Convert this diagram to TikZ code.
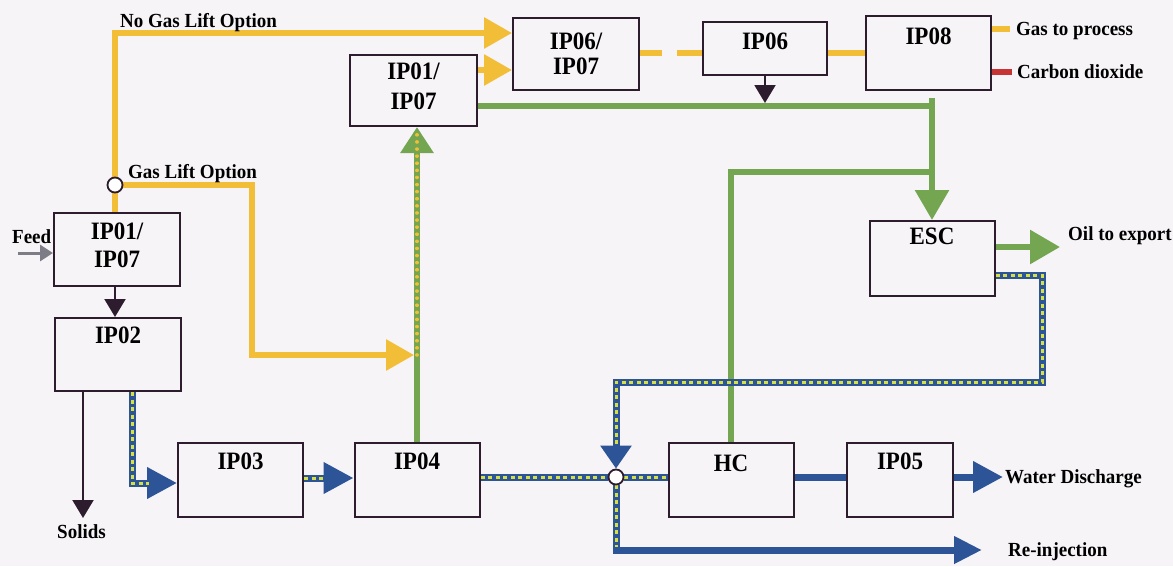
\documentclass[tikz,border=0pt]{standalone}
\usepackage{fontspec}
\newfontfamily\boxfont{Liberation Serif}[FakeStretch=0.92]
\newfontfamily\labfont{Liberation Serif}[FakeStretch=0.95]
\usetikzlibrary{arrows.meta,calc}
\definecolor{bgcol}{RGB}{247,244,248}
\definecolor{gasyel}{RGB}{242,190,55}
\definecolor{oilgrn}{RGB}{116,166,82}
\definecolor{watblu}{RGB}{44,84,150}
\definecolor{dotyel}{RGB}{214,224,64}
\definecolor{co2red}{RGB}{200,52,52}
\definecolor{boxline}{RGB}{45,28,45}
\definecolor{feedgray}{RGB}{125,125,135}
\pgfdeclarelayer{fg}
\pgfsetlayers{main,fg}
\tikzset{
  unitbox/.style={draw=boxline, line width=2pt, inner sep=0pt},
  boxlab/.style={font=\boxfont\bfseries\fontsize{25}{#1}\selectfont, inner sep=0pt, anchor=north, align=center, text=black},
  boxlab/.default=28,
  smlab/.style={font=\labfont\bfseries\fontsize{20}{22}\selectfont, inner sep=0pt, anchor=base west, text=black},
  gasline/.style={draw=gasyel, line width=6pt},
  oilline/.style={draw=oilgrn, line width=6pt},
  watline/.style={draw=watblu, line width=7pt},
  mixline/.style={draw=watblu, line width=7pt,
     postaction={draw=dotyel, line width=3pt, dash pattern=on 4pt off 3.5pt, arrows=-, shorten >=#1}},
  mixline/.default=0pt,
  yeldots/.style={draw=gasyel, line width=3.5pt, line cap=round, dash pattern=on 0.1pt off 7pt},
  blkline/.style={draw=boxline, line width=2pt},
  gastip/.style={-{Triangle[length=28pt,width=30pt]}},
  oiltip/.style={-{Triangle[length=30pt,width=33pt]}},
  wattip/.style={-{Triangle[length=30pt,width=30pt]}},
  blktip/.style={-{Triangle[length=18pt,width=21pt]}},
  junc/.style={circle, draw=boxline, fill=white, line width=1.8pt, minimum size=15pt, inner sep=0pt}
}
\begin{document}
\begin{tikzpicture}[x=1pt,y=-1pt]
\useasboundingbox (0,0) rectangle (1173,566);
\fill[bgcol] (0,0) rectangle (1173,566);

% boxes
\node[unitbox, minimum width=126pt, minimum height=73pt] (A) at (117,249) {};
\node[unitbox, minimum width=126pt, minimum height=73pt] (B) at (118,354.5) {};
\node[unitbox, minimum width=125pt, minimum height=74pt] (C) at (240.5,480) {};
\node[unitbox, minimum width=125pt, minimum height=74pt] (D) at (417,480) {};
\node[unitbox, minimum width=127pt, minimum height=71pt] (E) at (413.5,90.5) {};
\node[unitbox, minimum width=126pt, minimum height=72pt] (F) at (576,54) {};
\node[unitbox, minimum width=124pt, minimum height=53pt] (G) at (765,48.5) {};
\node[unitbox, minimum width=125pt, minimum height=74pt] (H) at (928.5,53) {};
\node[unitbox, minimum width=125pt, minimum height=75pt] (I) at (932,258.5) {};
\node[unitbox, minimum width=125pt, minimum height=74pt] (J) at (731,480) {};
\node[unitbox, minimum width=106pt, minimum height=74pt] (K) at (900,480) {};

% box labels
\node[boxlab=28] (At) at (117,223) {IP01/\\IP07};
\node[boxlab] (Bt) at (118,327) {IP02};
\node[boxlab] (Ct) at (240.5,453) {IP03};
\node[boxlab] (Dt) at (417,453) {IP04};
\node[boxlab=30] (Et) at (413.5,63) {IP01/\\IP07};
\node[boxlab=25] (Ft) at (576,33) {IP06/\\IP07};
\node[boxlab] (Gt) at (765,33) {IP06};
\node[boxlab] (Ht) at (928.5,28) {IP08};
\node[boxlab] (It) at (932,228) {ESC};
\node[boxlab] (Jt) at (731,455) {HC};
\node[boxlab] (Kt) at (900,453) {IP05};

% junctions
\begin{pgfonlayer}{fg}
\node[junc] (jc) at (115,185) {};
\node[junc] (jb) at (616,477) {};
\end{pgfonlayer}

% helper coordinates
\coordinate (ngtop) at (115,33);
\coordinate (glc) at (252,185);
\coordinate (gld) at (252,355);
\coordinate (gj) at (414,355);
\coordinate (gdot) at (417,355);
\coordinate (gdotend) at (417,132);
\coordinate (y70) at (0,70);
\coordinate (y53) at (0,53);
\coordinate (y29) at (0,29);
\coordinate (y72) at (0,72);
\coordinate (y106) at (0,106);
\coordinate (y247) at (0,247);
\coordinate (y275) at (0,275);
\coordinate (y478) at (0,478);
\coordinate (gasend) at (1010,29);
\coordinate (co2end) at (1012,72);
\coordinate (g6tip) at (765,103);
\coordinate (gtop) at (932,98);
\coordinate (g172) at (932,172);
\coordinate (oilend) at (1060,247);
\coordinate (bs) at (132,0);
\coordinate (b483) at (132,483);
\coordinate (r1) at (1042,275);
\coordinate (r2) at (1042,382);
\coordinate (r3) at (616,382);
\coordinate (ri1) at (616,550);
\coordinate (riend) at (982,550);
\coordinate (wdend) at (1003,477);
\coordinate (feedst) at (18,253);
\coordinate (sx) at (83,0);
\coordinate (solend) at (83,518);

% gas (yellow)
\draw[gasline] (A.north -| jc) -- (jc);
\draw[gasline, gastip] (jc) -- (ngtop) -- (ngtop -| F.west);
\draw[gasline, gastip] (jc) -- (glc) -- (gld) -- (gj);
\draw[gasline, gastip] (E.east |- y70) -- (F.west |- y70);
\draw[gasline, dash pattern=on 22pt off 15pt on 30pt off 0pt] (F.east |- y53) -- (G.west |- y53);
\draw[gasline] (G.east |- y53) -- (H.west |- y53);
\draw[gasline] (H.east |- y29) -- (gasend);
\draw[draw=co2red, line width=6pt] (H.east |- y72) -- (co2end);

% oil (green)
\draw[oilline, -{Triangle[length=26pt,width=32pt]}] (D.north) -- (D.north |- E.south);
\draw[yeldots] (gdot) -- (gdotend);
\draw[oilline] (E.east |- y106) -- (gtop |- y106);
\draw[oilline, oiltip] (gtop) -- (I.north);
\draw[oilline] (J.north) |- (g172);
\draw[oilline, oiltip] (I.east |- y247) -- (oilend);

% water (blue)
\draw[mixline=28pt, wattip] (B.south -| bs) -- (b483) -- (C.west |- b483);
\draw[mixline=28pt, wattip] (C.east |- y478) -- (D.west |- y478);
\draw[mixline] (D.east |- jb) -- (jb);
\draw[mixline] (jb) -- (J.west |- jb);
\draw[watline] (J.east |- jb) -- (K.west |- jb);
\draw[watline, wattip] (K.east |- jb) -- (wdend);
\draw[mixline=24pt, -{Triangle[length=23pt,width=30pt]}] (I.east |- y275) -- (r1) -- (r2) -- (r3) -- (jb.north);
\draw[mixline] (jb.south) -- (ri1);
\draw[watline, -{Triangle[length=28pt,width=26pt]}, shorten <=-3.5pt] (ri1) -- (riend);

% black / gray arrows
\draw[blkline, blktip] (A.south -| jc) -- (B.north -| jc);
\draw[blkline, blktip] (B.south -| sx) -- (solend);
\draw[blkline, blktip] (G.south) -- (g6tip);
\draw[draw=feedgray, line width=3pt, -{Triangle[length=13pt,width=16pt]}] (feedst) -- (A.west |- feedst);

% labels
\node[smlab] (lngl) at (120,27) {No Gas Lift Option};
\node[smlab] (lgl) at (128,178) {Gas Lift Option};
\node[smlab] (lgas) at (1016,35) {Gas to process};
\node[smlab] (lco2) at (1017,78) {Carbon dioxide};
\node[smlab] (loil) at (1068,240) {Oil to export};
\node[smlab] (lwd) at (1005,483) {Water Discharge};
\node[smlab] (lri) at (1008,556) {Re-injection};
\node[smlab] (lfeed) at (12,243) {Feed};
\node[smlab] (lsol) at (57,538) {Solids};
\end{tikzpicture}
\end{document}
